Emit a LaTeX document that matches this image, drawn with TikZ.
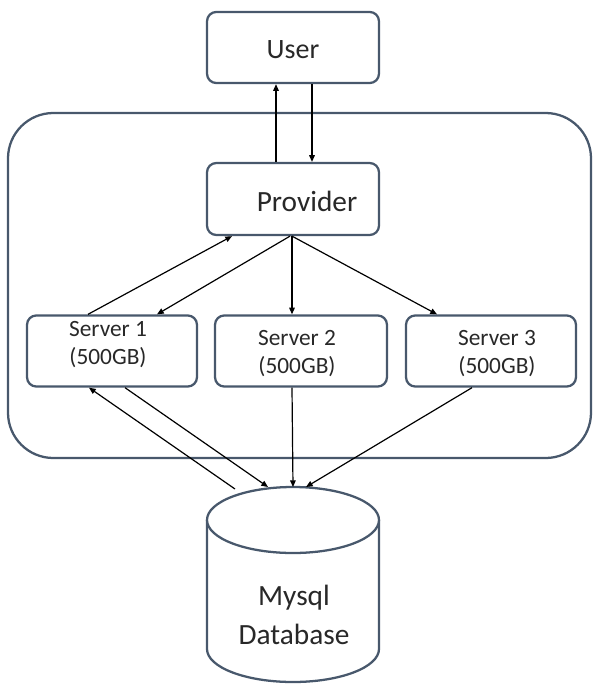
\documentclass[tikz,border=0pt]{standalone}
\usepackage{fontspec}
\setmainfont{Carlito}
\usetikzlibrary{arrows.meta}
\definecolor{bord}{RGB}{72,88,108}
\definecolor{txt}{RGB}{40,40,40}
\tikzset{
  box/.style={draw=bord, line width=1.7pt, rounded corners=7pt, fill=white, inner sep=0pt},
  lbl/.style={text=txt, inner sep=0pt, align=center},
  conn/.style={line width=0.9pt, -{Triangle[length=5pt,width=4.2pt]}},
}
\begin{document}
\begin{tikzpicture}[x=0.75pt, y=-0.75pt]
\useasboundingbox (0,0) rectangle (593,686);
% outer container
\draw[draw=bord, line width=1.7pt, rounded corners=34pt] (8,113) rectangle (591,458);
% boxes
\node[box, minimum width=129pt, minimum height=53.3pt] (user) at (293,47.5) {};
\node[box, minimum width=129pt, minimum height=54pt] (prov) at (293,199) {};
\node[box, minimum width=127.5pt, minimum height=53.3pt] (s1) at (112,351) {};
\node[box, minimum width=129pt, minimum height=53.3pt] (s2) at (301,351) {};
\node[box, minimum width=127.5pt, minimum height=53.3pt] (s3) at (491,351) {};
% labels
\node[lbl, font=\fontsize{21}{24}\selectfont] (tuser) at (293,50) {User};
\node[lbl, font=\fontsize{22}{24}\selectfont] (tprov) at (307,201) {Provider};
\node[lbl, font=\fontsize{17.5}{21}\selectfont] (ts1) at (108,345) {Server 1\\(500GB)};
\node[lbl, font=\fontsize{17.5}{21}\selectfont] (ts2) at (297,354) {Server 2\\(500GB)};
\node[lbl, font=\fontsize{17.5}{21}\selectfont] (ts3) at (497,354) {Server 3\\(500GB)};
% database cylinder
\draw[draw=bord, line width=1.7pt, fill=white]
  (207,520) -- (207,649) arc[start angle=180, end angle=0, x radius=86, y radius=33] -- (379,520);
\draw[draw=bord, line width=1.7pt, fill=white] (293,520) ellipse[x radius=86, y radius=33];
\coordinate (db) at (293,487);
\node[lbl, font=\fontsize{22}{29}\selectfont] (tdb) at (294,615) {Mysql\\Database};
% connectors
\draw[conn] ([xshift=-17*0.75pt]prov.north) -- ([xshift=-17*0.75pt]user.south);
\draw[conn] ([xshift=19*0.75pt]user.south) -- ([xshift=19*0.75pt]prov.north);
\draw[conn] ([xshift=-3*0.75pt]prov.south) -- ([xshift=45*0.75pt]s1.north);
\draw[conn] ([xshift=-24*0.75pt]s1.north) -- ([xshift=-61*0.75pt]prov.south);
\draw[conn] ([xshift=-1*0.75pt]prov.south) -- ([xshift=-9*0.75pt]s2.north);
\draw[conn] ([xshift=-1*0.75pt]prov.south) -- ([xshift=-54*0.75pt]s3.north);
\draw[conn] ([xshift=-58*0.75pt,yshift=-2*0.75pt]db) -- ([xshift=-23*0.75pt]s1.south);
\draw[conn] ([xshift=13*0.75pt]s1.south) -- ([xshift=-25*0.75pt]db);
\draw[conn] ([xshift=-9*0.75pt]s2.south) -- (db);
\draw[conn] ([xshift=-19*0.75pt]s3.south) -- ([xshift=13*0.75pt]db);
\end{tikzpicture}
\end{document}
